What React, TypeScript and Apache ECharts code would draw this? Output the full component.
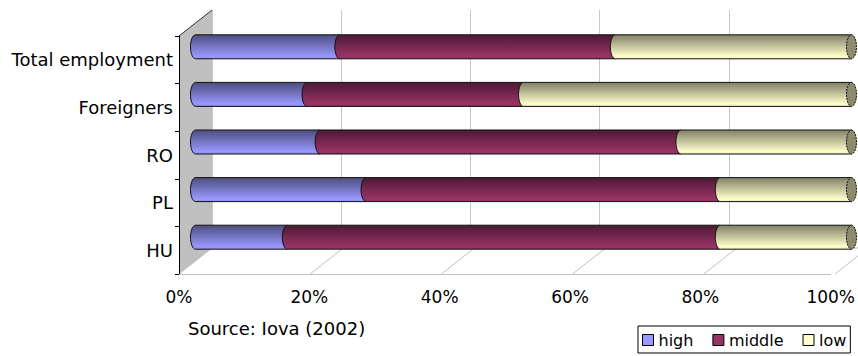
import React, { useEffect, useRef } from "react";
import * as echarts from "echarts";

// Qualification structure of employment (shares, %)
const categories = ["Total employment", "Foreigners", "RO", "PL", "HU"];
const high = [22, 17, 19, 26, 14];
const middle = [42, 33, 55, 54, 66];
const low = [36, 50, 26, 20, 20];
const seriesNames = ["high", "middle", "low"];
const seriesColors = ["#9999ff", "#993366", "#ffffcc"];
const xTicks = [0, 20, 40, 60, 80, 100];
const sourceNote = "Source: Iova (2002)";

// Pseudo-3D layout: front plane, depth offset, bars at half depth
const FRONT = { left: 179, top: 36, width: 656, height: 238 };
const DEPTH = { dx: 33, dy: 26 };
const BAR_H = 24;
const CAP_RX = 5;
const FONT = "DejaVu Sans";

function shade(hex: string, f: number): string {
  const n = parseInt(hex.slice(1), 16);
  const r = Math.round(((n >> 16) & 255) * f);
  const g = Math.round(((n >> 8) & 255) * f);
  const b = Math.round((n & 255) * f);
  return `rgb(${r},${g},${b})`;
}

function cylinderFill(hex: string) {
  return new echarts.graphic.LinearGradient(0, 0, 0, 1, [
    { offset: 0, color: shade(hex, 0.5) },
    { offset: 0.45, color: shade(hex, 0.75) },
    { offset: 0.9, color: shade(hex, 1) },
    { offset: 1, color: shade(hex, 0.92) },
  ]);
}

function ellipsePath(cx: number, cy: number, rx: number, ry: number): string {
  const k = 0.5523;
  return (
    `M ${cx} ${cy - ry} ` +
    `C ${cx + rx * k} ${cy - ry} ${cx + rx} ${cy - ry * k} ${cx + rx} ${cy} ` +
    `C ${cx + rx} ${cy + ry * k} ${cx + rx * k} ${cy + ry} ${cx} ${cy + ry} ` +
    `C ${cx - rx * k} ${cy + ry} ${cx - rx} ${cy + ry * k} ${cx - rx} ${cy} ` +
    `C ${cx - rx} ${cy - ry * k} ${cx - rx * k} ${cy - ry} ${cx} ${cy - ry} Z`
  );
}

function makeRenderer(color: string, isLast: boolean) {
  return (_params: any, api: any) => {
    const start = api.value(0) as number;
    const end = api.value(1) as number;
    const cat = api.value(2) as number;
    const a = api.coord([start, cat]);
    const b = api.coord([end, cat]);
    const cy = a[1];
    const ry = BAR_H / 2;
    const t = cy - ry;
    const bt = cy + ry;
    const x0 = a[0];
    const x1 = b[0];
    const k = 0.5523;
    const rx = CAP_RX;
    const body =
      `M ${x1} ${t} L ${x0} ${t} ` +
      `C ${x0 - rx * k} ${t} ${x0 - rx} ${cy - ry * k} ${x0 - rx} ${cy} ` +
      `C ${x0 - rx} ${cy + ry * k} ${x0 - rx * k} ${bt} ${x0} ${bt} ` +
      `L ${x1} ${bt}`;
    const children: any[] = [
      {
        type: "path",
        shape: { pathData: body },
        style: { fill: cylinderFill(color), stroke: "#111", lineWidth: 1 },
      },
    ];
    if (isLast) {
      children.push({
        type: "path",
        shape: { pathData: ellipsePath(x1, cy, rx, ry) },
        style: { fill: "#8c8c6c", stroke: "#111", lineWidth: 1, lineDash: [2, 1] },
      });
    }
    return { type: "group", children };
  };
}

export default function App() {
  const ref = useRef<HTMLDivElement>(null);

  useEffect(() => {
    if (!ref.current) return;
    const chart = echarts.init(ref.current, undefined, { renderer: "svg" });

    const values = [high, middle, low];
    const customSeries = values.map((vals, s) => {
      const data = vals.map((v, i) => {
        let start = 0;
        for (let j = 0; j < s; j++) start += values[j][i];
        return [start, start + v, i];
      });
      return {
        type: "custom",
        name: seriesNames[s],
        xAxisIndex: 2,
        yAxisIndex: 2,
        itemStyle: { color: seriesColors[s] },
        renderItem: makeRenderer(seriesColors[s], s === values.length - 1),
        encode: { x: [0, 1], y: 2 },
        data,
        z: 5,
      };
    });

    const back = {
      left: FRONT.left + DEPTH.dx,
      top: FRONT.top - DEPTH.dy,
      width: FRONT.width,
      height: FRONT.height,
    };
    const barGrid = {
      left: FRONT.left + DEPTH.dx / 2,
      top: FRONT.top - DEPTH.dy / 2,
      width: FRONT.width,
      height: FRONT.height,
    };
    const floorY = FRONT.top + FRONT.height;
    const step = FRONT.width / (xTicks.length - 1);

    const floorLines = xTicks.map((_, i) => ({
      type: "line",
      z: 0,
      shape: {
        x1: FRONT.left + i * step,
        y1: floorY,
        x2: back.left + i * step,
        y2: floorY - DEPTH.dy,
      },
      style: { stroke: "#c0c0c0", lineWidth: 1 },
    }));

    chart.setOption({
      animation: false,
      backgroundColor: "#ffffff",
      textStyle: { fontFamily: FONT },
      grid: [
        { ...FRONT, containLabel: false },
        { ...back, containLabel: false },
        { ...barGrid, containLabel: false },
      ],
      xAxis: [
        {
          gridIndex: 0,
          type: "value",
          min: 0,
          max: 100,
          interval: 20,
          axisLine: { show: true, lineStyle: { color: "#c0c0c0", width: 1 } },
          axisTick: { show: false },
          splitLine: { show: false },
          axisLabel: {
            formatter: "{value}%",
            fontFamily: FONT,
            fontSize: 17,
            color: "#000",
            margin: 14,
          },
        },
        {
          gridIndex: 1,
          type: "value",
          min: 0,
          max: 100,
          interval: 20,
          axisLine: { show: false },
          axisTick: { show: false },
          axisLabel: { show: false },
          splitLine: { show: true, lineStyle: { color: "#c8c8c8", width: 1 } },
        },
        {
          gridIndex: 2,
          type: "value",
          min: 0,
          max: 100,
          show: false,
        },
      ],
      yAxis: [
        {
          gridIndex: 0,
          type: "category",
          data: categories,
          inverse: true,
          axisLine: { show: true, lineStyle: { color: "#000", width: 1 } },
          axisTick: { show: true, length: 4, lineStyle: { color: "#000" } },
          axisLabel: {
            fontFamily: FONT,
            fontSize: 18,
            color: "#000",
            margin: 6,
          },
          splitLine: { show: false },
        },
        {
          gridIndex: 1,
          type: "category",
          data: categories,
          inverse: true,
          show: false,
        },
        {
          gridIndex: 2,
          type: "category",
          data: categories,
          inverse: true,
          show: false,
        },
      ],
      legend: {
        data: seriesNames,
        left: 638,
        top: 326,
        orient: "horizontal",
        icon: "rect",
        itemWidth: 11,
        itemHeight: 11,
        itemGap: 19,
        padding: [6, 4, 5, 4],
        borderColor: "#000",
        borderWidth: 1,
        itemStyle: { borderColor: "#000", borderWidth: 1 },
        textStyle: { fontFamily: FONT, fontSize: 16, color: "#000" },
      },
      graphic: [
        // left side wall
        {
          type: "polygon",
          z: 0,
          shape: {
            points: [
              [FRONT.left, FRONT.top],
              [back.left, back.top],
              [back.left, back.top + back.height],
              [FRONT.left, floorY],
            ],
          },
          style: { fill: "#c0c0c0" },
        },
        {
          type: "line",
          z: 1,
          shape: { x1: FRONT.left, y1: FRONT.top, x2: back.left, y2: back.top },
          style: { stroke: "#333", lineWidth: 1 },
        },
        // floor
        {
          type: "line",
          z: 0,
          shape: {
            x1: back.left,
            y1: floorY - DEPTH.dy,
            x2: back.left + back.width,
            y2: floorY - DEPTH.dy,
          },
          style: { stroke: "#c0c0c0", lineWidth: 1 },
        },
        ...floorLines,
        {
          type: "text",
          z: 3,
          left: 188,
          top: 319,
          style: {
            text: sourceNote,
            fontFamily: FONT,
            fontSize: 18,
            fill: "#000",
          },
        },
      ],
      series: customSeries,
    });

    return () => chart.dispose();
  }, []);

  return (
    <div
      ref={ref}
      style={{ position: "absolute", left: 0, top: 0, width: 858, height: 356 }}
    />
  );
}
